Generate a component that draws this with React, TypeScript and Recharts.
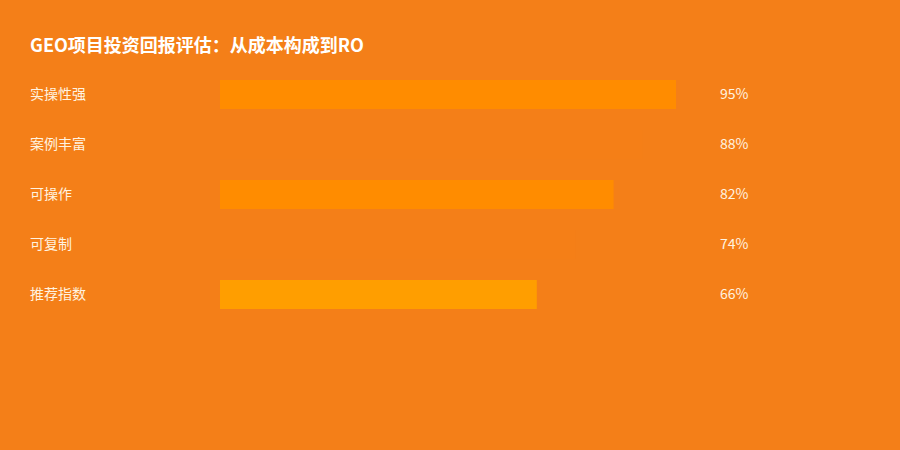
import React from "react";
import { BarChart, Bar, XAxis, YAxis, Cell } from "recharts";

const categories = ["实操性强", "案例丰富", "可操作", "可复制", "推荐指数"];
const values = [95, 88, 82, 74, 66];
const barColors = ["#FF8C00", "#F57F17", "#FF8C00", "#F57F17", "#FF9E00"];
const title = "GEO项目投资回报评估：从成本构成到RO";

const data = categories.map((name, i) => ({ name, value: values[i] }));

const FONT = "'Noto Sans CJK SC', 'Noto Sans', sans-serif";
const BG = "#F47F18";

const LeftTick = (props: any) => {
  const { y, payload } = props;
  return (
    <text x={30} y={y} dy={5} fill="#FFF3E0" fontSize={14} fontFamily={FONT} textAnchor="start">
      {payload.value}
    </text>
  );
};

const RightTick = (props: any) => {
  const { x, y, payload } = props;
  const idx = categories.indexOf(payload.value);
  return (
    <text x={x + 12} y={y} dy={5} fill="#FFF3E0" fontSize={14} fontFamily={FONT} textAnchor="start">
      {values[idx]}%
    </text>
  );
};

export default function App() {
  return (
    <div
      style={{
        position: "fixed",
        left: 0,
        top: 0,
        width: 900,
        height: 450,
        background: BG,
        fontFamily: FONT,
      }}
    >
      <div
        style={{
          position: "absolute",
          left: 30,
          top: 31,
          color: "#FFFFFF",
          fontSize: 18,
          fontWeight: 700,
          lineHeight: "26px",
        }}
      >
        {title}
      </div>
      <BarChart
        width={900}
        height={450}
        layout="vertical"
        data={data}
        margin={{ top: 69, right: 0, bottom: 131, left: 0 }}
        barCategoryGap={0}
      >
        <XAxis type="number" domain={[0, 100]} hide />
        <YAxis
          yAxisId="left"
          type="category"
          dataKey="name"
          width={220}
          axisLine={false}
          tickLine={false}
          tick={<LeftTick />}
        />
        <YAxis
          yAxisId="right"
          orientation="right"
          type="category"
          dataKey="name"
          width={200}
          axisLine={false}
          tickLine={false}
          tick={<RightTick />}
        />
        <Bar dataKey="value" yAxisId="left" barSize={29} isAnimationActive={false}>
          {data.map((d, i) => (
            <Cell key={d.name} fill={barColors[i]} />
          ))}
        </Bar>
      </BarChart>
    </div>
  );
}
